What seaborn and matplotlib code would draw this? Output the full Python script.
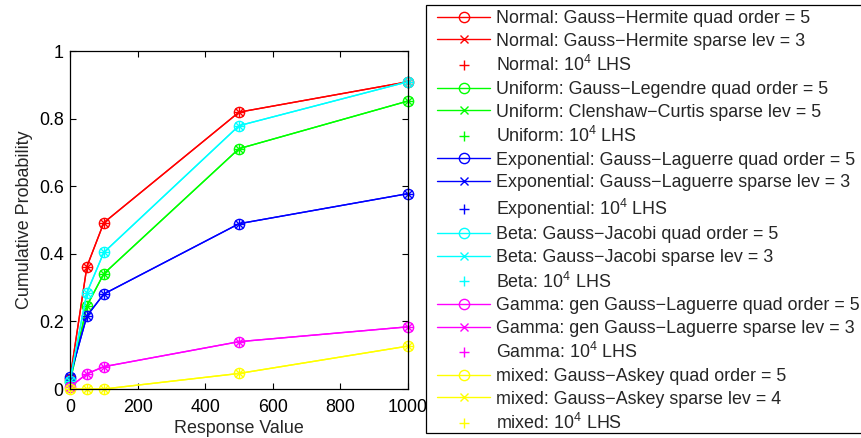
import matplotlib
matplotlib.use("Agg")
import matplotlib.pyplot as plt
import matplotlib.patches as mpatches
import seaborn as sns
import numpy as np

# ---- data ----
response = [0, 50, 100, 500, 1000]
normal_cdf = [0.03, 0.362, 0.492, 0.819, 0.909]
uniform_cdf = [0.02, 0.246, 0.341, 0.711, 0.852]
exponential_cdf = [0.036, 0.216, 0.281, 0.489, 0.578]
beta_cdf = [0.025, 0.285, 0.404, 0.779, 0.909]
gamma_cdf = [0.006, 0.045, 0.066, 0.140, 0.184]
mixed_cdf = [0.0, 0.0, 0.0, 0.046, 0.127]

dist_names = ["Normal", "Uniform", "Exponential", "Beta", "Gamma", "mixed"]
dist_values = [normal_cdf, uniform_cdf, exponential_cdf, beta_cdf, gamma_cdf, mixed_cdf]
dist_colors = ["#ff0000", "#00ff00", "#0000ff", "#00ffff", "#ff00ff", "#ffff00"]
quad_labels = ["Gauss\u2212Hermite quad order = 5",
               "Gauss\u2212Legendre quad order = 5",
               "Gauss\u2212Laguerre quad order = 5",
               "Gauss\u2212Jacobi quad order = 5",
               "gen Gauss\u2212Laguerre quad order = 5",
               "Gauss\u2212Askey quad order = 5"]
sparse_labels = ["Gauss\u2212Hermite sparse lev = 3",
                 "Clenshaw\u2212Curtis sparse lev = 5",
                 "Gauss\u2212Laguerre sparse lev = 3",
                 "Gauss\u2212Jacobi sparse lev = 3",
                 "gen Gauss\u2212Laguerre sparse lev = 3",
                 "Gauss\u2212Askey sparse lev = 4"]
lhs_label = r"$10^4$ LHS"

xticks = [0, 200, 400, 600, 800, 1000]
yticks = [0, 0.2, 0.4, 0.6, 0.8, 1.0]
ytick_labels = ["0", "0.2", "0.4", "0.6", "0.8", "1"]

# ---- style ----
sns.set_style("ticks")
plt.rcParams["font.family"] = ["Liberation Sans", "DejaVu Sans"]
plt.rcParams["mathtext.fontset"] = "custom"
plt.rcParams["mathtext.rm"] = "Liberation Sans"
plt.rcParams["mathtext.it"] = "Liberation Sans:italic"
plt.rcParams["mathtext.bf"] = "Liberation Sans:bold"
FS = 12.9

fig = plt.figure(figsize=(8.62, 4.38), dpi=100)
W, H = 862, 438
ax = fig.add_axes([70 / W, (H - 389) / H, 338 / W, 338 / H])

ms = 7.4
for name, vals, c, ql, sl in zip(dist_names, dist_values, dist_colors, quad_labels, sparse_labels):
    sns.lineplot(x=response, y=vals, ax=ax, color=c, lw=1.0, marker="o",
                 markersize=ms, markerfacecolor="none", markeredgecolor=c,
                 markeredgewidth=1.0, label=f"{name}: {ql}", clip_on=False,
                 errorbar=None, sort=False)
    sns.lineplot(x=response, y=vals, ax=ax, color=c, lw=1.0, marker="x",
                 markersize=ms * 0.75, markeredgecolor=c, markeredgewidth=1.0,
                 label=f"{name}: {sl}", clip_on=False, errorbar=None, sort=False)
    sns.lineplot(x=response, y=vals, ax=ax, color=c, lw=1.0, marker="+",
                 linestyle="none", markersize=ms * 1.05, markeredgecolor=c,
                 markeredgewidth=1.0, label=f"{name}: {lhs_label}",
                 clip_on=False, errorbar=None, sort=False)

if ax.get_legend() is not None:
    ax.get_legend().remove()

ax.set_xlim(0, 1000)
ax.set_ylim(0, 1)
ax.set_xticks(xticks)
ax.set_xticklabels([str(t) for t in xticks])
ax.set_yticks(yticks)
ax.set_yticklabels(ytick_labels)
ax.tick_params(direction="in", top=True, right=True, length=4, width=0.8,
               labelsize=FS, colors="black")
ax.tick_params(axis="x", pad=7.2)
ax.tick_params(axis="y", pad=4.5)
for sp in ax.spines.values():
    sp.set_visible(True)
    sp.set_linewidth(0.9)
    sp.set_color("black")
ax.set_xlabel("Response Value", fontsize=FS, labelpad=3.2)
ax.set_ylabel("Cumulative Probability", fontsize=FS, labelpad=4)

# legend frame drawn manually (MATLAB style box)
frame = mpatches.Rectangle((426 / W, 1 - 433 / H), (880 - 426) / W, (433 - 5) / H,
                           transform=fig.transFigure, facecolor="white",
                           edgecolor="black", linewidth=0.9, zorder=9)
fig.add_artist(frame)

handles, labels = ax.get_legend_handles_labels()
leg = fig.legend(handles, labels, loc="upper left",
                 bbox_to_anchor=(437 / W, 1 - 10.2 / H), fontsize=FS,
                 frameon=False, borderpad=0,
                 labelspacing=0.31, handlelength=2.98, handletextpad=0.3,
                 borderaxespad=0, numpoints=1)
leg.set_zorder(10)

fig.savefig("out.png", dpi=100)
